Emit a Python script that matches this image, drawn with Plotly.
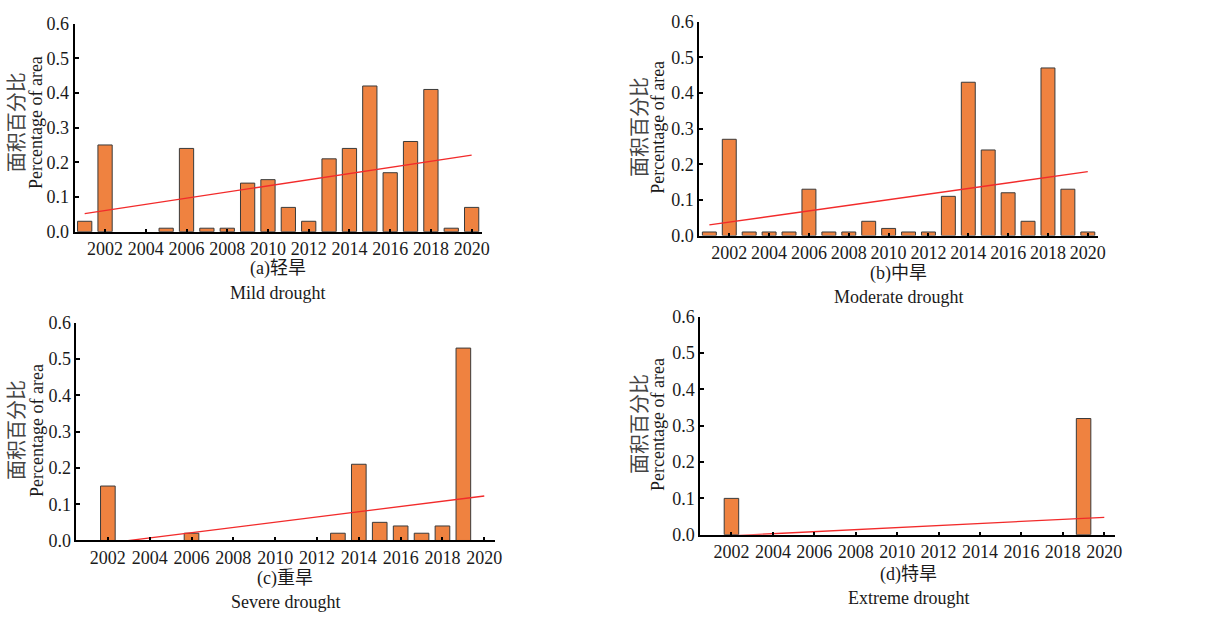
import numpy as np
import plotly.graph_objects as go

# Years and area percentages for each drought grade
years = list(range(2001, 2021))

mild = [0.03, 0.25, 0.00, 0.00, 0.01, 0.24, 0.01, 0.01, 0.14, 0.15,
        0.07, 0.03, 0.21, 0.24, 0.42, 0.17, 0.26, 0.41, 0.01, 0.07]
moderate = [0.01, 0.27, 0.01, 0.01, 0.01, 0.13, 0.01, 0.01, 0.04, 0.02,
            0.01, 0.01, 0.11, 0.43, 0.24, 0.12, 0.04, 0.47, 0.13, 0.01]
severe = [0.00, 0.15, 0.00, 0.00, 0.00, 0.02, 0.00, 0.00, 0.00, 0.00,
          0.00, 0.00, 0.02, 0.21, 0.05, 0.04, 0.02, 0.04, 0.53, 0.00]
extreme = [0.00, 0.10, 0.00, 0.00, 0.00, 0.00, 0.00, 0.00, 0.00, 0.00,
           0.00, 0.00, 0.00, 0.00, 0.00, 0.00, 0.00, 0.00, 0.32, 0.00]

panel_cn = ["(a)轻旱", "(b)中旱", "(c)重旱", "(d)特旱"]
panel_en = ["Mild drought", "Moderate drought", "Severe drought", "Extreme drought"]
ytitle_cn = "面积百分比"
ytitle_en = "Percentage of area"
year_ticks = list(range(2002, 2021, 2))
y_ticks = [0.0, 0.1, 0.2, 0.3, 0.4, 0.5, 0.6]

W, H = 1221, 626
FONT = "Liberation Serif, Noto Sans CJK SC, serif"
CJK = "Noto Sans CJK SC, sans-serif"
BAR = "#EF8240"
TEXT = "#1a1a1a"


def px(x):
    return x / W


def py(y):
    return 1 - y / H


# Plot-area boxes in pixels: left, right, bottom (zero line), top (0.6)
boxes = [
    (75, 485, 229, 14),
    (704, 1105, 233, 12),
    (77, 498, 548, 323),
    (705, 1122, 542, 317),
]
# y-title centres: (x_cn, x_en, y)
ytitle_pos = [(15, 37, 116), (642, 662, 121), (15, 37, 434), (643, 663, 428)]
# bottom caption rows: (x, y_cn, y_en)
caption_pos = [(280, 267, 292), (904, 272, 296), (287, 587, 612), (914, 583, 607)]

series = [mild, moderate, severe, extreme]

fig = go.Figure()
annotations = []
layout = {}

for i, vals in enumerate(series):
    n = "" if i == 0 else str(i + 1)
    xa, ya = "x" + n, "y" + n
    l, r, b, t = boxes[i]

    # empty years get no bar at all
    shown = [v if v > 0 else None for v in vals]
    fig.add_trace(go.Bar(
        x=years, y=shown, width=0.7, xaxis=xa, yaxis=ya,
        marker=dict(color=BAR, line=dict(color="#3a3a3a", width=1)),
        showlegend=False,
    ))

    # least-squares linear trend over the whole period
    k, c = np.polyfit(years, vals, 1)
    trend = [k * yr + c for yr in years]
    fig.add_trace(go.Scatter(
        x=years, y=trend, mode="lines", xaxis=xa, yaxis=ya,
        line=dict(color="#F22B2B", width=1.3), showlegend=False,
    ))

    layout["xaxis" + n] = dict(
        domain=[px(l), px(r)], anchor=ya, range=[2000.5, 2020.5],
        tickmode="array", tickvals=year_ticks,
        ticks="inside", ticklen=3, tickwidth=1.5, tickcolor="black",
        showline=True, linecolor="black", linewidth=2,
        showgrid=False, zeroline=False,
        tickfont=dict(family=FONT, size=18, color=TEXT),
    )
    layout["yaxis" + n] = dict(
        domain=[py(b), py(t)], anchor=xa, range=[0, 0.6],
        tickmode="array", tickvals=y_ticks,
        ticktext=[f"{v:.1f}" for v in y_ticks],
        ticks="inside", ticklen=4, tickwidth=1.5, tickcolor="black",
        showline=True, linecolor="black", linewidth=2,
        showgrid=False, zeroline=False,
        tickfont=dict(family=FONT, size=18, color=TEXT),
    )

    xc, xe, yc = ytitle_pos[i]
    annotations.append(dict(
        text=ytitle_cn, x=px(xc), y=py(yc), xref="paper", yref="paper",
        textangle=-90, showarrow=False, xanchor="center", yanchor="middle",
        font=dict(family=CJK, size=20, color="#444"),
    ))
    annotations.append(dict(
        text=ytitle_en, x=px(xe), y=py(yc), xref="paper", yref="paper",
        textangle=-90, showarrow=False, xanchor="center", yanchor="middle",
        font=dict(family=FONT, size=18, color=TEXT),
    ))

    cx, cy1, cy2 = caption_pos[i]
    annotations.append(dict(
        text=panel_cn[i], x=px(cx), y=py(cy1), xref="paper", yref="paper",
        showarrow=False, xanchor="center", yanchor="middle",
        font=dict(family=FONT, size=18, color=TEXT),
    ))
    annotations.append(dict(
        text=panel_en[i], x=px(cx), y=py(cy2), xref="paper", yref="paper",
        showarrow=False, xanchor="center", yanchor="middle",
        font=dict(family=FONT, size=18, color=TEXT),
    ))

fig.update_layout(
    width=W, height=H,
    margin=dict(l=0, r=0, t=0, b=0),
    paper_bgcolor="white", plot_bgcolor="white",
    annotations=annotations,
    bargap=0.3,
    **layout,
)

fig.write_html("out.html")
